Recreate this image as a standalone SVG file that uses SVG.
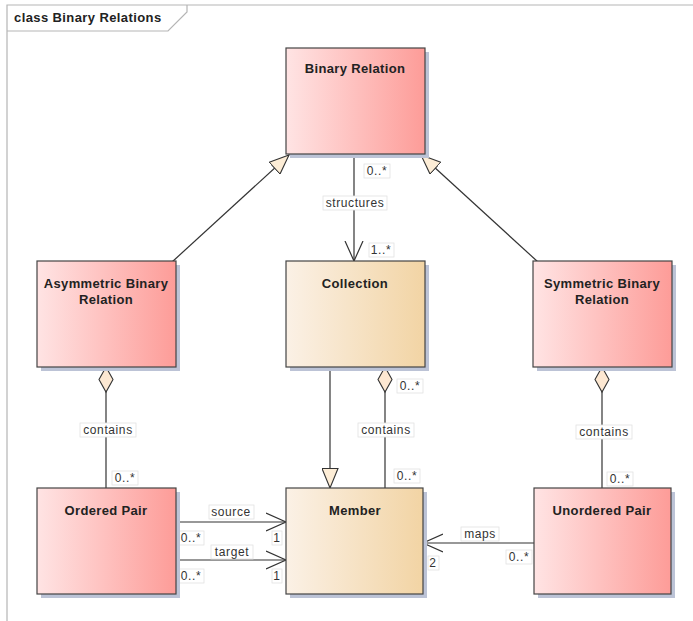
<svg xmlns="http://www.w3.org/2000/svg" width="693" height="621" viewBox="0 0 693 621">
  <defs>
    <linearGradient id="gPink" x1="0" y1="0" x2="1" y2="0">
      <stop offset="0" stop-color="#ffe4e4"/>
      <stop offset="1" stop-color="#fd9c98"/>
    </linearGradient>
    <linearGradient id="gTan" x1="0" y1="0" x2="1" y2="0">
      <stop offset="0" stop-color="#fbf1e6"/>
      <stop offset="1" stop-color="#f2d4a4"/>
    </linearGradient>
    <marker id="tri" markerUnits="userSpaceOnUse" viewBox="0 0 21 17" refX="20" refY="8.5" markerWidth="21" markerHeight="17" orient="auto">
      <path d="M0.5,0.5 L20,8.5 L0.5,16.5 Z" fill="#fdedd6" stroke="#333" stroke-width="1.1"/>
    </marker>
    <marker id="open" markerUnits="userSpaceOnUse" viewBox="0 0 22 20" refX="20" refY="10" markerWidth="22" markerHeight="20" orient="auto">
      <path d="M0,1 L20,10 L0,19" fill="none" stroke="#333" stroke-width="1.2"/>
    </marker>
    <marker id="dia" markerUnits="userSpaceOnUse" viewBox="0 0 28 16" refX="1" refY="8" markerWidth="28" markerHeight="16" orient="auto">
      <path d="M1,8 L13.5,1 L26,8 L13.5,15 Z" fill="#fde8d2" stroke="#333" stroke-width="1.1"/>
    </marker>
  </defs>
  <style>
    .frame { fill: none; stroke: #b5b5b5; stroke-width: 1.2; }
    .shadow { fill: #bcc3d6; }
    .box { stroke: #444; stroke-width: 1.2; }
    .pink { fill: url(#gPink); }
    .tan { fill: url(#gTan); }
    .title { font-family: "Liberation Sans", Arial, sans-serif; font-size: 13px; letter-spacing: 0.35px; font-weight: bold; fill: #222; text-anchor: middle; }
    .ftitle { font-family: "Liberation Sans", Arial, sans-serif; font-size: 13px; letter-spacing: 0.4px; font-weight: bold; fill: #222; }
    .conn { stroke: #333; stroke-width: 1.2; fill: none; }
    .lbg { fill: #fff; stroke: #e2e2e2; stroke-width: 0.8; }
    .lbl { font-family: "Liberation Sans", Arial, sans-serif; font-size: 12px; letter-spacing: 0.6px; fill: #333; text-anchor: middle; }
  </style>

  <!-- diagram frame -->
  <g id="frame">
    <path class="frame" d="M7,621 L7,5 L693,5"/>
    <path class="frame" d="M7,31 L168,31 L187,12 L187,5"/>
    <text class="ftitle" x="14" y="22">class Binary Relations</text>
  </g>

  <!-- connectors -->
  <g id="connectors">
    <!-- generalizations -->
    <line class="conn" x1="172" y1="262" x2="289" y2="155" marker-end="url(#tri)"/>
    <line class="conn" x1="538" y1="262" x2="421" y2="155" marker-end="url(#tri)"/>
    <line class="conn" x1="330" y1="367" x2="330" y2="488" marker-end="url(#tri)"/>
    <!-- structures -->
    <line class="conn" x1="354" y1="155" x2="354" y2="261" marker-end="url(#open)"/>
    <!-- aggregations -->
    <line class="conn" x1="106" y1="367" x2="106" y2="488" marker-start="url(#dia)"/>
    <line class="conn" x1="385" y1="367" x2="385" y2="488" marker-start="url(#dia)"/>
    <line class="conn" x1="602" y1="367" x2="602" y2="488" marker-start="url(#dia)"/>
    <!-- source / target / maps -->
    <line class="conn" x1="176" y1="522" x2="286" y2="522" marker-end="url(#open)"/>
    <line class="conn" x1="176" y1="560" x2="286" y2="560" marker-end="url(#open)"/>
    <line class="conn" x1="534" y1="543" x2="423" y2="543" marker-end="url(#open)"/>

    <!-- connector labels -->
    <rect class="lbg" x="364" y="164" width="26" height="14"/><text class="lbl" x="377" y="175">0..*</text>
    <rect class="lbg" x="323" y="196" width="64" height="14"/><text class="lbl" x="355" y="207">structures</text>
    <rect class="lbg" x="369" y="243" width="25" height="14"/><text class="lbl" x="381" y="254">1..*</text>

    <rect class="lbg" x="80" y="423" width="56" height="14"/><text class="lbl" x="108" y="434">contains</text>
    <rect class="lbg" x="112" y="471" width="26" height="14"/><text class="lbl" x="125" y="482">0..*</text>

    <rect class="lbg" x="397" y="379" width="26" height="14"/><text class="lbl" x="410" y="390">0..*</text>
    <rect class="lbg" x="358" y="423" width="56" height="14"/><text class="lbl" x="386" y="434">contains</text>
    <rect class="lbg" x="394" y="469" width="26" height="14"/><text class="lbl" x="407" y="480">0..*</text>

    <rect class="lbg" x="576" y="425" width="56" height="14"/><text class="lbl" x="604" y="436">contains</text>
    <rect class="lbg" x="607" y="472" width="26" height="14"/><text class="lbl" x="620" y="483">0..*</text>

    <rect class="lbg" x="209" y="505" width="45" height="14"/><text class="lbl" x="231" y="516">source</text>
    <rect class="lbg" x="178" y="531" width="26" height="14"/><text class="lbl" x="191" y="542">0..*</text>
    <rect class="lbg" x="272" y="531" width="10" height="14"/><text class="lbl" x="277" y="542">1</text>

    <rect class="lbg" x="211" y="545" width="42" height="14"/><text class="lbl" x="232" y="556">target</text>
    <rect class="lbg" x="178" y="569" width="26" height="14"/><text class="lbl" x="191" y="580">0..*</text>
    <rect class="lbg" x="272" y="569" width="10" height="14"/><text class="lbl" x="277" y="580">1</text>

    <rect class="lbg" x="461" y="527" width="38" height="14"/><text class="lbl" x="480" y="538">maps</text>
    <rect class="lbg" x="428" y="556" width="11" height="14"/><text class="lbl" x="433" y="567">2</text>
    <rect class="lbg" x="506" y="550" width="26" height="14"/><text class="lbl" x="519" y="561">0..*</text>
  </g>

  <!-- nodes -->
  <g id="binary-relation">
    <rect class="shadow" x="290" y="52" width="139" height="106"/>
    <rect class="box pink" x="286" y="48" width="139" height="106"/>
    <text class="title" x="355" y="73">Binary Relation</text>
  </g>

  <g id="asymmetric-binary-relation">
    <rect class="shadow" x="41" y="265" width="139" height="106"/>
    <rect class="box pink" x="37" y="261" width="139" height="106"/>
    <text class="title" x="106" y="288">Asymmetric Binary</text>
    <text class="title" x="106" y="304">Relation</text>
  </g>

  <g id="collection">
    <rect class="shadow" x="290" y="265" width="139" height="106"/>
    <rect class="box tan" x="286" y="261" width="139" height="106"/>
    <text class="title" x="355" y="288">Collection</text>
  </g>

  <g id="symmetric-binary-relation">
    <rect class="shadow" x="537" y="265" width="139" height="106"/>
    <rect class="box pink" x="533" y="261" width="139" height="106"/>
    <text class="title" x="602" y="288">Symmetric Binary</text>
    <text class="title" x="602" y="304">Relation</text>
  </g>

  <g id="ordered-pair">
    <rect class="shadow" x="41" y="492" width="139" height="106"/>
    <rect class="box pink" x="37" y="488" width="139" height="106"/>
    <text class="title" x="106" y="515">Ordered Pair</text>
  </g>

  <g id="member">
    <rect class="shadow" x="290" y="492" width="137" height="106"/>
    <rect class="box tan" x="286" y="488" width="137" height="106"/>
    <text class="title" x="355" y="515">Member</text>
  </g>

  <g id="unordered-pair">
    <rect class="shadow" x="538" y="492" width="137" height="106"/>
    <rect class="box pink" x="534" y="488" width="137" height="106"/>
    <text class="title" x="602" y="515">Unordered Pair</text>
  </g>
</svg>
